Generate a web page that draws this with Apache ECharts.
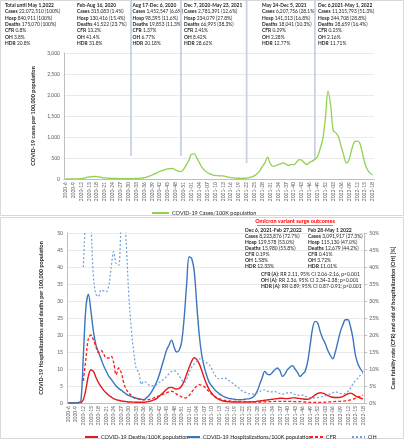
<!DOCTYPE html>
<html><head><meta charset="utf-8">
<script src="https://cdn.jsdelivr.net/npm/echarts@6/dist/echarts.min.js"></script>
<style>html,body{margin:0;padding:0;background:#fff}#c{width:404px;height:440px}</style>
</head><body><div id="c"></div>
<script>
// ---- categories (ISO weeks) ----
const weeks = [];
for (let w = 6; w <= 53; w++) weeks.push('2020-' + w);
for (let w = 1; w <= 52; w++) weeks.push('2021-' + String(w).padStart(2, '0'));
for (let w = 1; w <= 18; w++) weeks.push('2022-' + String(w).padStart(2, '0'));

// ---- series values ----
const casesPer100K = [0,0,1,2,3,5,10,18,35,50,58,60,55,45,35,28,22,18,15,12,10,10,10,9,9,10,10,12,15,20,
30,45,70,95,120,150,180,205,225,240,250,245,215,185,175,230,330,440,590,600,510,390,280,205,155,120,100,85,78,76,
72,62,45,32,25,20,18,17,18,22,32,50,80,125,195,300,390,520,370,300,310,340,360,385,355,320,350,340,400,460,
445,385,340,400,425,470,530,720,950,1450,2100,1750,1150,1100,1000,780,560,380,460,700,880,900,870,640,380,220,140,100];

const deathsPer100K = [0,0,0,0,0,0.1,1,4,8,9.7,9.3,7.5,6,4.8,3.8,3.0,2.3,1.8,1.3,1.0,0.8,0.6,0.5,0.4,0.3,0.3,0.25,0.2,0.2,0.2,
0.2,0.3,0.4,0.6,0.9,1.3,1.9,2.6,3.3,4.0,4.5,4.6,4.3,4.1,4.3,5.0,6.5,8.5,10.5,12.3,13.3,12.8,11.5,9.5,7.3,5.4,3.9,2.8,2.0,1.4,
1.0,0.7,0.5,0.4,0.35,0.3,0.3,0.3,0.25,0.25,0.25,0.3,0.3,0.35,0.4,0.5,0.6,0.7,0.8,0.9,1.0,1.1,1.2,1.3,1.4,1.4,1.3,1.3,1.4,1.5,
1.5,1.4,1.3,1.2,1.1,1.1,1.3,1.8,2.4,2.8,3.0,2.9,2.6,2.2,1.9,1.7,1.6,1.6,1.7,1.9,2.3,2.7,2.9,2.6,2.1,1.7,1.4,1.2];

const hospPer100K = [0,0,0,0,0.2,0.5,14,28,32,27,21,17,15,13,11,9.5,8,7,6,5,4.3,3.8,3.2,2.6,2.2,1.9,1.6,1.4,1.2,1.1,
1.0,1.5,2.2,3.2,4.5,6,8,10.5,13,15.5,17,18.5,16.5,15,15.5,18,25,35,43,42.5,38.8,29,20,14,10.5,8,6,5,4,3.3,
2.7,2.2,1.8,1.5,1.3,1.2,1.1,1.0,1.0,1.0,1.1,1.2,1.3,1.6,2.2,3.5,5.5,7.5,9.3,8.5,8.3,9.0,9.8,10.3,9.5,7.8,8.5,9.8,10.5,11,
10,9,7.8,8.5,9.3,12,17,22,24,23.5,21,19,17.5,15.5,14,13,15,18,21,23,24.5,24.5,22.5,19,14,11.5,10,9];

const cfrPct = [null,null,null,null,null,null,6.5,13,19,20,18.5,16.5,14.8,15.5,14.5,13.3,13.2,13.8,12,8.3,10.3,9,6,4,3,2.2,1.7,1.4,1.2,1.0,
0.9,0.9,1.0,1.2,1.5,1.8,2.1,2.4,2.7,3.0,3.3,3.4,3.2,2.6,2.2,1.8,1.5,1.6,2.2,3.2,4.2,5.0,5.4,5.2,4.8,4.0,3.3,2.6,2.0,1.5,
1.2,1.0,0.8,0.7,0.6,0.5,0.5,0.5,0.5,0.45,0.45,0.4,0.4,0.35,0.3,0.3,0.3,0.3,0.35,0.4,0.4,0.4,0.45,0.45,0.5,0.5,0.5,0.45,0.45,0.45,
0.4,0.4,0.4,0.35,0.3,0.25,0.2,0.2,0.2,0.2,0.2,0.2,0.25,0.3,0.35,0.4,0.45,0.5,0.5,0.55,0.6,0.7,0.9,1.1,1.4,1.7,2.0,2.3];

const ohPct = [null,null,null,null,null,null,40,55,60,52,37,32,31.3,33.2,33,32.7,34.2,39.6,44.5,41,40.5,52,56,47,32,22,15,10,9,5.5,
6.3,6.0,5.3,5.0,5.2,5.4,6.0,6.5,7.0,7.8,8.6,9.3,9.5,9.0,8.0,6.8,6.0,7.0,9.0,10.5,11.5,12.3,13,12.8,12.2,11.8,11.2,10,8.5,7.5,
7.0,7.2,7.4,7.0,6.5,6.0,5.3,4.8,4.2,3.6,3.2,2.9,2.7,2.6,2.7,3.0,3.4,3.7,3.9,3.5,3.3,3.3,3.4,3.0,2.8,2.6,2.7,3.0,3.1,2.8,
2.5,2.3,2.2,2.3,2.0,1.8,1.6,1.5,1.5,1.6,1.7,1.9,2.1,2.4,2.7,3.0,3.3,3.1,2.8,2.6,2.8,3.4,4.4,5.6,6.6,7.3,8.2,8.8];

// ---- tick settings ----
const casesTicks = { min: 0, max: 3000, interval: 500 };
const hospTicks = { min: 0, max: 50, interval: 5 };
const pctTicks = { min: 0, max: 50, interval: 5 };

// ---- annotation texts ----
const periodBlocks = [
  ['Total until May 1,2022', ['Cases','22,072,510 (100%)'], ['Hosp','840,911 (100%)'], ['Deaths','175,070 (100%)'], ['CFR','0.8%'], ['OH','3.8%'], ['HDR','20.8%']],
  ['Feb-Aug 16, 2020', ['Cases','315,083 (1.4%)'], ['Hosp','130,416 (15.4%)'], ['Deaths','41,522 (23.7%)'], ['CFR','13.2%'], ['OH','41.4%'], ['HDR','31.8%']],
  ['Aug 17-Dec 6, 2020', ['Cases','1,452,547 (6.6%)'], ['Hosp','98,395 (11.6%)'], ['Deaths','19,853 (11.3%)'], ['CFR','1.37%'], ['OH','6.77%'], ['HDR','20.18%']],
  ['Dec 7, 2020-May 23, 2021', ['Cases','2,781,391 (12.6%)'], ['Hosp','234,079 (27.8%)'], ['Deaths','66,995 (38.3%)'], ['CFR','2.41%'], ['OH','8.42%'], ['HDR','28.62%']],
  ['May 24-Dec 5, 2021', ['Cases','6,207,756 (28.1%)'], ['Hosp','141,313 (16.8%)'], ['Deaths','18,041 (10.3%)'], ['CFR','0.29%'], ['OH','2.28%'], ['HDR','12.77%']],
  ['Dec 6,2021-May 1, 2022', ['Cases','11,315,793 (51.3%)'], ['Hosp','244,708 (28.8%)'], ['Deaths','28,659 (16.4%)'], ['CFR','0.25%'], ['OH','2.16%'], ['HDR','11.71%']]
];
const periodSeparatorWeeks = ['2020-31', '2020-50', '2021-22', '2021-48'];
const periodSeparatorLevels = [550, 550, 380, 450];

const omicronTitle = 'Omicron variant surge outcomes';
const omicronBlocks = [
  ['Dec 6, 2021-Feb 27,2022', ['Cases','8,223,876 (72.7%)'], ['Hosp','129,578 (53.0%)'], ['Deaths','15,980 (55.8%)'], ['CFR','0.19%'], ['OH','1.58%'], ['HDR','12.33%']],
  ['Feb 28-May 1 2022', ['Cases','3,091,917 (27.3%)'], ['Hosp','115,130 (47.0%)'], ['Deaths','12,679 (44.2%)'], ['CFR','0.41%'], ['OH','3.72%'], ['HDR','11.01%']]
];
const omicronStats = [
  ['CFR (A)', ': RR 2.11, 95% CI 2.06-2.16, p<0.001'],
  ['OH (A)', ': RR 2.36, 95% CI 2.34-2.38; p<0.001'],
  ['HDR (A)', ': RR 0.89; 95% CI 0.87-0.91; p<0.001']
];

const FONT = 'Lato';
const TXT = '#262626';
const AX = '#595959';

const chart = echarts.init(document.getElementById('c'), null, { renderer: 'canvas' });

const xLabel = { fontSize: 5, color: AX, fontFamily: FONT, rotate: 90, interval: 2, margin: 3 };
const yLabel = { fontSize: 5, color: AX, fontFamily: FONT, margin: 4 };
const nameStyle = { fontSize: 5.5, fontWeight: 'bold', color: TXT, fontFamily: FONT };
const legendText = { fontSize: 5.5, color: TXT, fontFamily: FONT, padding: [0, 0, 0, -2] };
const legendItem = { color: 'transparent', borderWidth: 0, opacity: 0 };

const option = {
  animation: false,
  backgroundColor: '#fff',
  grid: [
    { left: 64, right: 30, top: 53, height: 126 },
    { left: 67, right: 23, top: 233, height: 170 }
  ],
  xAxis: [
    { type: 'category', gridIndex: 0, data: weeks, boundaryGap: true,
      axisLine: { lineStyle: { color: '#bfbfbf' } }, axisTick: { show: false }, axisLabel: xLabel },
    { type: 'category', gridIndex: 1, data: weeks, boundaryGap: true,
      axisLine: { lineStyle: { color: '#bfbfbf' } }, axisTick: { show: false }, axisLabel: xLabel }
  ],
  yAxis: [
    { type: 'value', gridIndex: 0, min: casesTicks.min, max: casesTicks.max, interval: casesTicks.interval,
      name: 'COVID-19 cases per 100,000 population', nameLocation: 'middle', nameGap: 23, nameRotate: 90, nameTextStyle: nameStyle,
      axisLine: { show: true, lineStyle: { color: '#bfbfbf' } }, axisTick: { show: false }, axisLabel: yLabel,
      splitLine: { lineStyle: { color: '#e4e4e4', width: 0.8 } } },
    { type: 'value', gridIndex: 1, min: hospTicks.min, max: hospTicks.max, interval: hospTicks.interval,
      name: 'COVID-19 Hospitalizations and deaths per 100,000 population', nameLocation: 'middle', nameGap: 23, nameRotate: 90, nameTextStyle: nameStyle,
      axisLine: { show: true, lineStyle: { color: '#bfbfbf' } }, axisTick: { show: false }, axisLabel: yLabel,
      splitLine: { lineStyle: { color: '#e4e4e4', width: 0.8 } } },
    { type: 'value', gridIndex: 1, position: 'right', min: pctTicks.min, max: pctTicks.max, interval: pctTicks.interval,
      name: 'Case fatality rate (CFR) and odd of hospitalization (OH) [%]', nameLocation: 'middle', nameGap: 17, nameRotate: 90, nameTextStyle: nameStyle,
      axisLine: { show: true, lineStyle: { color: '#bfbfbf' } }, axisTick: { show: true, length: 3, lineStyle: { color: '#bfbfbf' } },
      axisLabel: Object.assign({}, yLabel, { formatter: '{value}%', margin: 5 }),
      splitLine: { show: false } }
  ],
  legend: [
    { data: ['COVID-19 Cases/100K population'], left: 146, top: 205, itemWidth: 17, itemHeight: 6, itemStyle: legendItem, textStyle: legendText },
    { data: ['COVID-19 Deaths/100K population'], left: 79, top: 429, itemWidth: 13, itemHeight: 6, itemStyle: legendItem, textStyle: legendText },
    { data: ['COVID-19 Hospitalizations/100K population'], left: 181, top: 429, itemWidth: 13, itemHeight: 6, itemStyle: legendItem, textStyle: legendText },
    { data: ['CFR'], left: 304, top: 429, itemWidth: 13, itemHeight: 6, itemStyle: legendItem, textStyle: legendText },
    { data: ['OH'], left: 346, top: 429, itemWidth: 13, itemHeight: 6, itemStyle: legendItem, textStyle: legendText }
  ],
  series: [
    { name: 'COVID-19 Cases/100K population', type: 'line', xAxisIndex: 0, yAxisIndex: 0, data: casesPer100K,
      symbol: 'none', smooth: 0.35, color: '#92d050', lineStyle: { width: 1.3, color: '#92d050' } },
    { name: 'COVID-19 Deaths/100K population', type: 'line', xAxisIndex: 1, yAxisIndex: 1, data: deathsPer100K,
      symbol: 'none', smooth: 0.35, color: '#e01b1b', lineStyle: { width: 1.4, color: '#e01b1b' } },
    { name: 'COVID-19 Hospitalizations/100K population', type: 'line', xAxisIndex: 1, yAxisIndex: 1, data: hospPer100K,
      symbol: 'none', smooth: 0.35, color: '#3b75bd', lineStyle: { width: 1.4, color: '#3b75bd' } },
    { name: 'CFR', type: 'line', xAxisIndex: 1, yAxisIndex: 2, data: cfrPct, connectNulls: false,
      symbol: 'none', smooth: 0.35, color: '#ff1a1a', lineStyle: { width: 1.3, color: '#ff1a1a', type: [3, 2] } },
    { name: 'OH', type: 'line', xAxisIndex: 1, yAxisIndex: 2, data: ohPct, clip: true,
      symbol: 'none', smooth: 0.35, color: '#6fa0d8', lineStyle: { width: 1.2, color: '#6fa0d8', type: [2, 2] } }
  ]
};
chart.setOption(option);

// ---- annotations ----
function textEl(x, y, label, value, opts) {
  opts = opts || {};
  const fs = opts.fontSize || 5;
  let text, rich = { b: { fontWeight: 'bold', fontSize: fs, fontFamily: FONT, fill: opts.fill || TXT } };
  if (value === undefined) text = '{b|' + label + '}';
  else text = '{b|' + label + '}' + (value.charAt(0) === ':' ? '' : ' ') + value;
  return { type: 'text', x: x, y: y, silent: true,
    style: { text: text, rich: rich, fontSize: fs, fontFamily: FONT, fill: opts.fill || TXT, verticalAlign: 'top', align: 'left' } };
}

const g = [];
// panel borders
g.push({ type: 'rect', shape: { x: 0.5, y: 0.5, width: 403, height: 215 }, style: { fill: 'none', stroke: '#d9d9d9', lineWidth: 1 }, silent: true });
g.push({ type: 'rect', shape: { x: 0.5, y: 217.5, width: 403, height: 221 }, style: { fill: 'none', stroke: '#d9d9d9', lineWidth: 1 }, silent: true });

// separators
periodSeparatorWeeks.forEach(function (wk, k) {
  const p = chart.convertToPixel({ xAxisIndex: 0, yAxisIndex: 0 }, [wk, periodSeparatorLevels[k]]);
  g.push({ type: 'line', shape: { x1: p[0], y1: 0, x2: p[0], y2: p[1] }, style: { stroke: '#c8d2e2', lineWidth: 1.8 }, silent: true, z: 1 });
});

// period blocks
const blockX = [5, 77, 132.5, 184, 262, 318];
periodBlocks.forEach(function (blk, b) {
  const x = blockX[b];
  g.push(textEl(x, 3, blk[0], undefined, { fontSize: 4.9 }));
  for (let r = 1; r < blk.length; r++) g.push(textEl(x, 3 + r * 6.3, blk[r][0], blk[r][1], { fontSize: 4.9 }));
});

// omicron title
g.push({ type: 'text', x: 295, y: 218.5, silent: true,
  style: { text: omicronTitle, fontSize: 5.5, fontWeight: 'bold', fontFamily: FONT, fill: '#ff0000', align: 'center', verticalAlign: 'top' } });
g.push({ type: 'line', shape: { x1: 257, y1: 225.5, x2: 333, y2: 225.5 }, style: { stroke: '#ff0000', lineWidth: 0.6 }, silent: true });

const omiX = [245, 308];
omicronBlocks.forEach(function (blk, b) {
  const x = omiX[b];
  g.push(textEl(x, 227.5, blk[0]));
  for (let r = 1; r < blk.length; r++) g.push(textEl(x, 227.5 + r * 6.1, blk[r][0], blk[r][1]));
});
omicronStats.forEach(function (s, k) {
  g.push(textEl(261, 271.5 + k * 6.3, s[0], s[1]));
});

chart.setOption({ graphic: g });
</script>
</body></html>
